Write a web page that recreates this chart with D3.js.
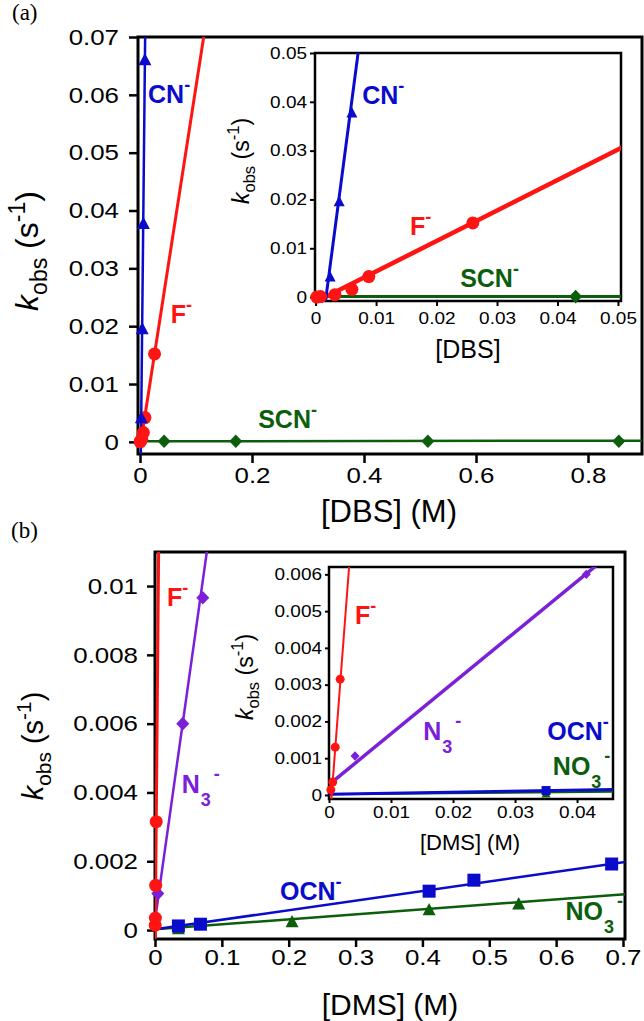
<!DOCTYPE html>
<html><head><meta charset="utf-8">
<script src="https://cdn.jsdelivr.net/npm/d3@7"></script>
<style>body{margin:0;background:#fff}svg{display:block}</style>
</head><body><svg id="c" width="644" height="1021"></svg>
<script>
// ---------------- DATA ----------------
// Panel (a): k_obs vs [DBS]
const dbsCN_x = [0.0024, 0.0039, 0.0060, 0.0087];
const dbsCN_y = [0.0041, 0.0195, 0.0377, 0.0660];
const dbsCN_fitX = [0.0015, 0.0092];
const dbsCN_fitY = [-0.0021, 0.0705];
const dbsF_x = [0.0002, 0.0008, 0.0032, 0.0060, 0.0088, 0.0260];
const dbsF_y = [0.0000, 0.0001, 0.0005, 0.0016, 0.0042, 0.0152];
const dbsF_fitX = [0.0016, 0.1145];
const dbsF_fitY = [0.0000, 0.0705];
const dbsSCN_x = [0.0430, 0.1710, 0.5140, 0.8550];
const dbsSCN_y = [0.0001, 0.0001, 0.0001, 0.0001];
const dbsSCN_fitX = [0.0, 0.90];
const dbsSCN_fitY = [0.0001, 0.0002];

// Panel (b): k_obs vs [DMS]
const dmsF_x = [0.0003, 0.0006, 0.0010, 0.0018];
const dmsF_y = [0.00014, 0.00035, 0.0013, 0.00315];
const dmsF_fitX = [0.0003, 0.0055];
const dmsF_fitY = [-0.0003, 0.0112];
const dmsN3_x = [0.0042, 0.0415, 0.0715];
const dmsN3_y = [0.00106, 0.0060, 0.00966];
const dmsN3_fitX = [0.0005, 0.0790];
const dmsN3_fitY = [0.00035, 0.0112];
const dmsOCN_x = [0.035, 0.068, 0.410, 0.477, 0.683];
const dmsOCN_y = [0.00012, 0.00017, 0.00113, 0.00145, 0.00192];
const dmsOCN_fitX = [0.0, 0.703];
const dmsOCN_fitY = [0.00002, 0.00198];
const dmsNO3_x = [0.035, 0.205, 0.410, 0.544];
const dmsNO3_y = [0.00003, 0.00023, 0.00058, 0.00075];
const dmsNO3_fitX = [0.0, 0.703];
const dmsNO3_fitY = [0.00002, 0.00104];

// Tick values and labels
const aMainXTicks = [0, 0.2, 0.4, 0.6, 0.8];
const aMainXLabels = ["0", "0.2", "0.4", "0.6", "0.8"];
const aMainYTicks = [0, 0.01, 0.02, 0.03, 0.04, 0.05, 0.06, 0.07];
const aMainYLabels = ["0", "0.01", "0.02", "0.03", "0.04", "0.05", "0.06", "0.07"];
const aInsXTicks = [0, 0.01, 0.02, 0.03, 0.04, 0.05];
const aInsXLabels = ["0", "0.01", "0.02", "0.03", "0.04", "0.05"];
const aInsYTicks = [0, 0.01, 0.02, 0.03, 0.04, 0.05];
const aInsYLabels = ["0", "0.01", "0.02", "0.03", "0.04", "0.05"];
const bMainXTicks = [0, 0.1, 0.2, 0.3, 0.4, 0.5, 0.6, 0.7];
const bMainXLabels = ["0", "0.1", "0.2", "0.3", "0.4", "0.5", "0.6", "0.7"];
const bMainYTicks = [0, 0.002, 0.004, 0.006, 0.008, 0.01];
const bMainYLabels = ["0", "0.002", "0.004", "0.006", "0.008", "0.01"];
const bInsXTicks = [0, 0.01, 0.02, 0.03, 0.04];
const bInsXLabels = ["0", "0.01", "0.02", "0.03", "0.04"];
const bInsYTicks = [0, 0.001, 0.002, 0.003, 0.004, 0.005, 0.006];
const bInsYLabels = ["0", "0.001", "0.002", "0.003", "0.004", "0.005", "0.006"];

// Text labels (ion name, subscript, data position)
const aMainIons = [["CN", "", 0.0143, 0.0586, "blue"], ["F", "", 0.055, 0.0206, "red"], ["SCN", "", 0.211, 0.0024, "green"]];
const aInsIons = [["CN", "", 0.0077, 0.0395, "blue"], ["F", "", 0.0156, 0.0127, "red"], ["SCN", "", 0.0239, 0.0020, "green"]];
const bMainIons = [["F", "", 0.018, 0.00942, "red"], ["N", "3", 0.040, 0.00398, "purple"], ["OCN", "", 0.187, 0.00087, "blue"], ["NO", "3", 0.614, 0.00029, "green"]];
const bInsIons = [["F", "", 0.0042, 0.00465, "red"], ["N", "3", 0.0152, 0.0015, "purple"], ["OCN", "", 0.0352, 0.0015, "blue"], ["NO", "3", 0.0361, 0.00054, "green"]];

// ---------------- STYLE ----------------
const FONT = "'Liberation Sans', Arial, Helvetica, sans-serif";
const COL = {red: "#ff1414", blue: "#0b0bcc", green: "#0c5e0c", purple: "#7b20d8"};
const SX = 1.15; // tick labels look horizontally wide

const svg = d3.select("#c");

function markerPath(shape, w) {
  const h = w / 2;
  if (shape === "circle") return d3.symbol(d3.symbolCircle, Math.PI * h * h)();
  if (shape === "square") return `M${-h},${-h}H${h}V${h}H${-h}Z`;
  if (shape === "diamond") return `M0,${-h * 1.05}L${h},0L0,${h * 1.05}L${-h},0Z`;
  return `M0,${-h * 1.1}L${h},${h * 0.8}L${-h},${h * 0.8}Z`;
}

let clipId = 0;
function panel(P) {
  const g = svg.append("g");
  const x = d3.scaleLinear().domain(P.xd).range([P.l, P.r]);
  const y = d3.scaleLinear().domain(P.yd).range([P.b, P.t]);
  if (P.bg) g.append("rect").attr("x", P.l).attr("y", P.t).attr("width", P.r - P.l).attr("height", P.b - P.t).attr("fill", "#fff");
  const id = "clip" + (clipId++);
  g.append("clipPath").attr("id", id).append("rect").attr("x", P.l).attr("y", P.t).attr("width", P.r - P.l).attr("height", P.b - P.t);

  // axes
  const ax = d3.axisBottom(x).tickValues(P.xt).tickFormat((d, i) => P.xtl[i]).tickSize(P.tick).tickPadding(P.xpad);
  const gx = g.append("g").attr("transform", `translate(0,${P.b})`).call(ax);
  gx.select(".domain").remove();
  gx.selectAll("line").attr("stroke", "#000").attr("stroke-width", P.tw);
  gx.selectAll("text").attr("font-family", FONT).attr("font-size", P.tf).attr("fill", "#000").attr("transform", `scale(${SX},1)`);
  const ay = d3.axisLeft(y).tickValues(P.yt).tickFormat((d, i) => P.ytl[i]).tickSize(P.tick).tickPadding(P.ypad);
  const gy = g.append("g").attr("transform", `translate(${P.l},0)`).call(ay);
  gy.select(".domain").remove();
  gy.selectAll("line").attr("stroke", "#000").attr("stroke-width", P.tw);
  gy.selectAll("text").attr("font-family", FONT).attr("font-size", P.tf).attr("fill", "#000")
    .attr("x", -(P.tick + P.ypad) / SX).attr("transform", `scale(${SX},1)`);
  g.append("rect").attr("x", P.l).attr("y", P.t).attr("width", P.r - P.l).attr("height", P.b - P.t)
    .attr("fill", "none").attr("stroke", "#000").attr("stroke-width", P.fw);

  // fit lines
  const lg = g.append("g").attr("clip-path", `url(#${id})`);
  P.series.forEach(s => {
    lg.append("line").attr("x1", x(s.fx[0])).attr("y1", y(s.fy[0])).attr("x2", x(s.fx[1])).attr("y2", y(s.fy[1]))
      .attr("stroke", COL[s.c]).attr("stroke-width", s.lw);
  });
  // markers
  P.series.forEach(s => {
    const pts = s.xs.map((v, i) => [v, s.ys[i]]).filter(p => p[0] <= P.xd[1] && p[1] <= P.yd[1]);
    g.append("g").selectAll("path").data(pts).join("path")
      .attr("d", markerPath(s.shape, s.ms))
      .attr("transform", p => `translate(${x(p[0])},${y(p[1])})`)
      .attr("fill", COL[s.c]);
  });
  // ion labels
  P.ions.forEach(([base, sub, vx, vy, c]) => {
    const t = g.append("text").attr("x", x(vx)).attr("y", y(vy)).attr("fill", COL[c])
      .attr("font-family", FONT).attr("font-weight", "bold").attr("font-size", 25);
    t.append("tspan").text(base);
    if (sub) {
      t.append("tspan").attr("font-size", 18).attr("dx", 1).attr("dy", 13).text(sub);
      t.append("tspan").attr("font-size", 18).attr("dx", 3).attr("dy", -26).text("-");
    } else {
      t.append("tspan").attr("font-size", 18).attr("dy", -12).text("-");
    }
  });
  return g;
}

function yTitle(cx, cy, fs) {
  const t = svg.append("text").attr("transform", `translate(${cx},${cy}) rotate(-90)`).attr("text-anchor", "middle")
    .attr("font-family", FONT).attr("font-size", fs).attr("fill", "#000");
  t.append("tspan").attr("font-style", "italic").text("k");
  t.append("tspan").attr("font-size", fs * 0.72).attr("dy", fs * 0.28).text("obs");
  t.append("tspan").attr("dy", -fs * 0.28).text(" (s");
  t.append("tspan").attr("font-size", fs * 0.72).attr("dy", -fs * 0.42).text("-1");
  t.append("tspan").attr("dy", fs * 0.42).text(")");
}
function xTitle(cx, by, fs, str) {
  svg.append("text").attr("x", cx).attr("y", by).attr("text-anchor", "middle").attr("font-family", FONT)
    .attr("font-size", fs).attr("fill", "#000").text(str);
}

// ---------------- PANEL (a) ----------------
const aSeries = (big) => [
  {xs: dbsSCN_x, ys: dbsSCN_y, fx: dbsSCN_fitX, fy: dbsSCN_fitY, c: "green", shape: "diamond", ms: 13, lw: big ? 2.5 : 3},
  {xs: dbsF_x, ys: dbsF_y, fx: dbsF_fitX, fy: dbsF_fitY, c: "red", shape: "circle", ms: 13, lw: big ? 3 : 4.5},
  {xs: dbsCN_x, ys: dbsCN_y, fx: dbsCN_fitX, fy: dbsCN_fitY, c: "blue", shape: "triangle", ms: big ? 13 : 11, lw: big ? 2.5 : 3}
];
panel({l: 138, r: 642, t: 37, b: 454, xd: [-0.0036, 0.8964], yd: [-0.0021, 0.07],
  xt: aMainXTicks, xtl: aMainXLabels, yt: aMainYTicks, ytl: aMainYLabels,
  tick: 9, tw: 2.5, tf: 22.5, xpad: 4, ypad: 10, fw: 3, series: aSeries(true), ions: aMainIons});
yTitle(38, 251, 32);
xTitle(389, 522, 31, "[DBS] (M)");
panel({l: 315, r: 621, t: 53, b: 301, xd: [-0.0001, 0.0505], yd: [-0.0008, 0.05], bg: true,
  xt: aInsXTicks, xtl: aInsXLabels, yt: aInsYTicks, ytl: aInsYLabels,
  tick: 5, tw: 2, tf: 16.5, xpad: 6, ypad: 3, fw: 2.5, series: aSeries(false), ions: aInsIons});
yTitle(249, 161, 23);
xTitle(468, 358, 25, "[DBS]");

// ---------------- PANEL (b) ----------------
const bSeries = (big) => [
  {xs: dmsNO3_x, ys: dmsNO3_y, fx: dmsNO3_fitX, fy: dmsNO3_fitY, c: "green", shape: "triangle", ms: big ? 13 : 9, lw: big ? 2.5 : 2},
  {xs: dmsOCN_x, ys: dmsOCN_y, fx: dmsOCN_fitX, fy: dmsOCN_fitY, c: "blue", shape: "square", ms: big ? 13 : 9, lw: big ? 2.5 : 3},
  {xs: dmsN3_x, ys: dmsN3_y, fx: dmsN3_fitX, fy: dmsN3_fitY, c: "purple", shape: "diamond", ms: big ? 13 : 9, lw: big ? 2.5 : 3.5},
  {xs: dmsF_x, ys: dmsF_y, fx: dmsF_fitX, fy: dmsF_fitY, c: "red", shape: "circle", ms: big ? 13 : 9, lw: big ? 3 : 2}
];
panel({l: 155, r: 625, t: 552, b: 939, xd: [0, 0.703], yd: [-0.00026, 0.01099],
  xt: bMainXTicks, xtl: bMainXLabels, yt: bMainYTicks, ytl: bMainYLabels,
  tick: 8, tw: 2.5, tf: 22.5, xpad: 2, ypad: 9, fw: 3, series: bSeries(true), ions: bMainIons});
yTitle(43, 746, 29);
xTitle(390, 1015, 30, "[DMS] (M)");
panel({l: 329, r: 613, t: 567, b: 799, xd: [0, 0.0458], yd: [-0.00011, 0.0062], bg: true,
  xt: bInsXTicks, xtl: bInsXLabels, yt: bInsYTicks, ytl: bInsYLabels,
  tick: 4, tw: 2, tf: 16.5, xpad: 3, ypad: 3, fw: 2.5, series: bSeries(false), ions: bInsIons});
yTitle(253, 677, 23);
xTitle(470, 850, 22, "[DMS] (M)");

// panel letters
svg.append("text").attr("x", 12).attr("y", 20).attr("font-family", "'Liberation Serif', 'DejaVu Serif', serif").attr("font-size", 23).text("(a)");
svg.append("text").attr("x", 11).attr("y", 538).attr("font-family", "'Liberation Serif', 'DejaVu Serif', serif").attr("font-size", 23).text("(b)");
</script>
</body></html>
